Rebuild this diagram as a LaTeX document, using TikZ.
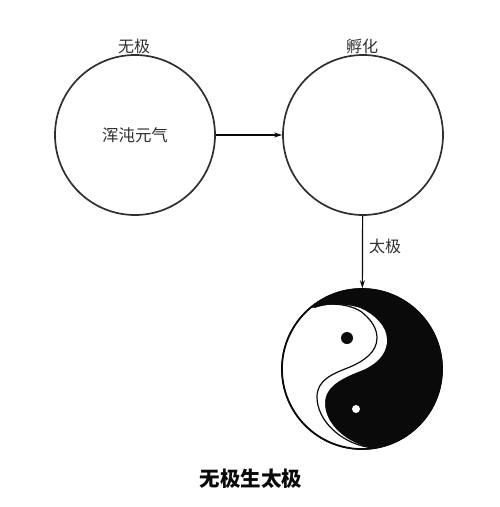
\documentclass[tikz,border=0pt]{standalone}
\usepackage{fontspec}
\setmainfont{Noto Sans CJK SC}
\definecolor{inkblack}{RGB}{10,10,10}
\usepackage{tikz}
\usetikzlibrary{arrows.meta,positioning}
\tikzset{
  ball/.style={draw=inkblack!85, line width=1.7pt, circle, minimum size=160pt, inner sep=0pt, fill=white},
  lbl/.style={font=\fontsize{16}{16}\selectfont, text=inkblack!85, inner sep=0pt},
  conn/.style={-{Stealth[length=8pt,width=5pt]}, inkblack, line width=1.2pt}
}
\begin{document}
\begin{tikzpicture}[x=1pt, y=-1pt]
\useasboundingbox (0,0) rectangle (500,507);

% --- Top circles ---
\node[ball, font=\fontsize{16.5}{16.5}\selectfont, text=inkblack!85] (wuji) at (135,135) {浑沌元气};
\node[ball] (fuhua) at (363,135) {};
\node[lbl] (wujilbl) at (134,46) {无极};
\node[lbl] (fuhualbl) at (362,46) {孵化};

% --- Taiji ---
\node[ball, draw=inkblack, fill=inkblack] (taiji) at (362,369) {};
\begin{scope}
  \clip (362,369) circle (79.5);
  \fill[white] (262,300) -- (315,308) .. controls (325,304) and (345,303) .. (360,308)
    .. controls (374,314) and (387,326) .. (387,340)
    .. controls (387,356) and (374,365) .. (363,370)
    .. controls (345,377) and (325,385) .. (325,403)
    .. controls (325,424) and (345,441) .. (367,447)
    -- (367,460) -- (262,460) -- cycle;
  \draw[inkblack, line width=1.2pt] (330,304) .. controls (345,304) and (358,308) .. (364,314)
    .. controls (372,321) and (377,329) .. (377,338)
    .. controls (377,352) and (364,361) .. (350,367)
    .. controls (332,374) and (317,380) .. (317,397)
    .. controls (317,420) and (340,442) .. (367,447);
\end{scope}
\draw[inkblack, line width=1.7pt] (taiji.center) circle (80);
\node[circle, fill=inkblack, minimum size=12pt, inner sep=0pt] (dotblack) at (347,338) {};
\node[circle, fill=white, minimum size=8pt, inner sep=0pt] (dotwhite) at (356,409) {};

% --- Arrows ---
\draw[conn] (wuji) -- (fuhua);
\draw[conn] (fuhua) -- (taiji);
\node[lbl] (taijilbl) at (385,246) {太极};

% --- Caption ---
\node[font=\fontsize{20.5}{20.5}\selectfont\bfseries, text=inkblack, inner sep=0pt] (caption) at (251,479) {无极生太极};
\end{tikzpicture}
\end{document}
